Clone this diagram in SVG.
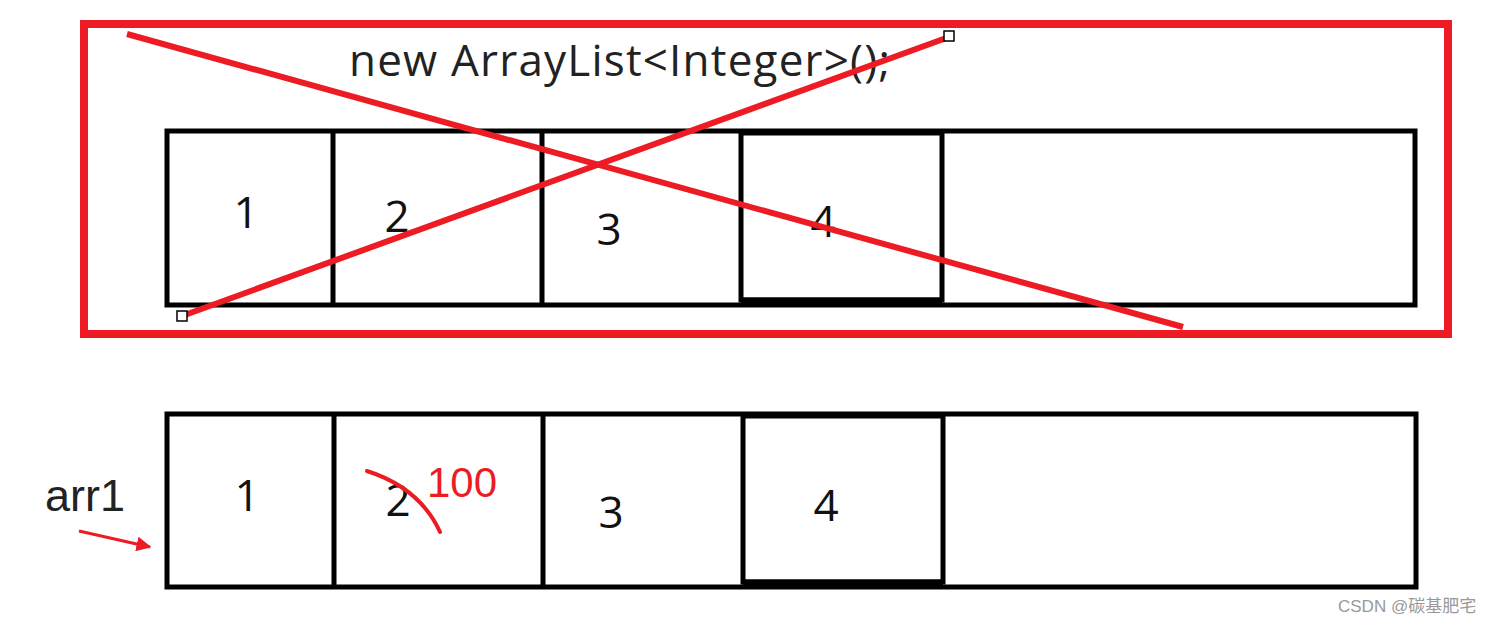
<svg xmlns="http://www.w3.org/2000/svg" width="1490" height="623" viewBox="0 0 1490 623">
<style>
.cell{fill:none;stroke:#000;stroke-width:5}
.num{font-family:"Open Sans","Noto Sans",sans-serif;font-size:44px;fill:#111;text-anchor:middle}
.red{stroke:#ED1C24;fill:none}
.handle{fill:#fff;stroke:#000;stroke-width:1.5}
</style>
<defs>
<marker id="ah" viewBox="0 0 10 10" refX="9" refY="5" markerWidth="5" markerHeight="5" orient="auto" markerUnits="strokeWidth">
<path d="M0,0 L10,5 L0,10 z" fill="#ED1C24"/>
</marker>
</defs>
<rect width="1490" height="623" fill="#fff"/>

<g id="top-array">
<rect class="cell" x="167" y="131" width="1248" height="174"/>
<line class="cell" x1="333" y1="131" x2="333" y2="305"/>
<line class="cell" x1="542" y1="131" x2="542" y2="305"/>
<rect class="cell" x="741" y="133" width="201" height="167"/>
<line x1="741" y1="301" x2="942" y2="301" stroke="#000" stroke-width="7"/>
<text class="num" x="246" y="228">1</text>
<text class="num" x="397" y="232">2</text>
<text class="num" x="609" y="245">3</text>
<text class="num" x="823" y="237">4</text>
</g>

<g id="title">
<text x="349" y="76" font-family="'Open Sans','Noto Sans',sans-serif" font-size="44" fill="#222" textLength="541">new ArrayList&lt;Integer&gt;();</text>
</g>

<g id="cross">
<rect class="red" x="84" y="24" width="1364" height="310" stroke-width="8"/>
<line class="red" x1="127" y1="34" x2="1183" y2="327" stroke-width="6"/>
<line class="red" x1="182" y1="316" x2="949" y2="37" stroke-width="6"/>
<rect class="handle" x="177" y="311" width="10" height="10"/>
<rect class="handle" x="944" y="31" width="10" height="10"/>
</g>

<g id="bottom-array">
<rect class="cell" x="167" y="414" width="1249" height="173"/>
<line class="cell" x1="334" y1="414" x2="334" y2="587"/>
<line class="cell" x1="543" y1="414" x2="543" y2="587"/>
<rect class="cell" x="743" y="416" width="200" height="166"/>
<line x1="743" y1="583" x2="943" y2="583" stroke="#000" stroke-width="7"/>
<text class="num" x="247" y="511">1</text>
<text class="num" x="398" y="516">2</text>
<text class="num" x="611" y="528">3</text>
<text class="num" x="826" y="521">4</text>
</g>

<g id="arr1-label">
<text x="45" y="511" font-family="'Liberation Sans',Arial,sans-serif" font-size="45" fill="#222">arr1</text>
</g>

<g id="edit">
<path class="red" d="M367,471 Q420,488 440,532" stroke-width="4" stroke-linecap="round"/>
<text x="427" y="497" font-family="'Liberation Sans',Arial,sans-serif" font-size="42" fill="#ED1C24">100</text>
</g>

<g id="connectors">
<line class="red" x1="79" y1="531" x2="150" y2="547" stroke-width="3" marker-end="url(#ah)"/>
</g>

<g id="watermark">
<text x="1338" y="612" font-family="'Liberation Sans','Noto Sans CJK SC',sans-serif" font-size="17" fill="#999">CSDN @碳基肥宅</text>
</g>
</svg>
